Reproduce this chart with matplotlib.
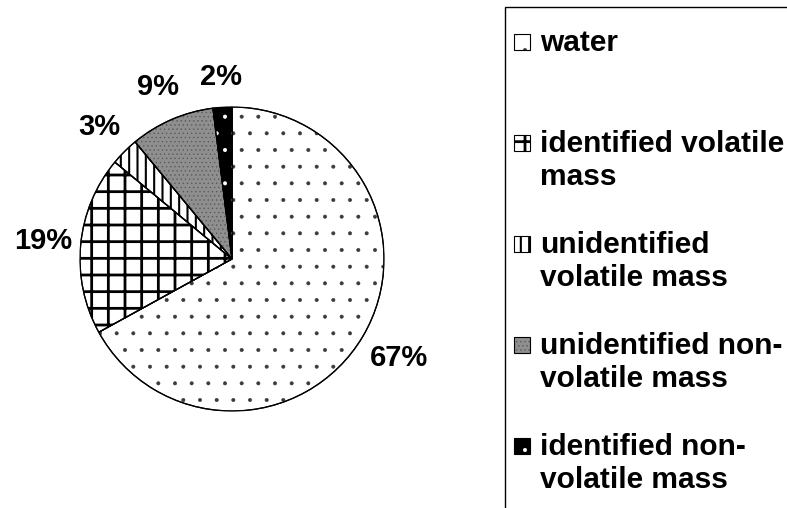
import numpy as np
import matplotlib
matplotlib.use("Agg")
import matplotlib.pyplot as plt
from matplotlib.patches import Rectangle, Wedge

plt.rcParams["font.family"] = ["Liberation Sans", "DejaVu Sans"]
plt.rcParams["font.weight"] = "bold"

# Data
categories = [
    "water",
    "identified volatile\nmass",
    "unidentified\nvolatile mass",
    "unidentified non-\nvolatile mass",
    "identified non-\nvolatile mass",
]
shares = [67, 19, 3, 9, 2]

# Styling for each slice: (facecolor, hatch, hatch colour, hatch line width)
STYLES = [
    ("white", ".", "#3a3a3a", 0.4),
    ("white", "+", "black", 2.0),
    ("white", "||", "black", 1.5),
    ("#8f8f8f", "....", "#5a5a5a", 0.5),
    ("black", ".", "white", 0.5),
]
LABEL_DIST = [1.28, 1.25, 1.23, 1.23, 1.2]

W, H = 787, 508
fig = plt.figure(figsize=(W / 100, H / 100), dpi=100)

# Pie axes placed in pixel units
cx, cy, R = 232, 259, 152
ax = fig.add_axes([(cx - R) / W, (H - cy - R) / H, 2 * R / W, 2 * R / H])

wedges, _, autotexts = ax.pie(
    shares,
    startangle=90,
    counterclock=False,
    autopct="%1.0f%%",
    wedgeprops=dict(edgecolor="black", linewidth=0.9),
    textprops=dict(fontsize=21, fontweight="bold"),
)


def set_hlw(patch, lw):
    if hasattr(patch, "set_hatch_linewidth"):
        patch.set_hatch_linewidth(lw)


for w, (fc, hatch, hc, hlw) in zip(wedges, STYLES):
    w.set_facecolor(fc)
    # hatch layer in its own colour, then outline on top
    hw = Wedge(w.center, w.r, w.theta1, w.theta2, facecolor="none",
               edgecolor=hc, linewidth=0, hatch=hatch)
    set_hlw(hw, hlw)
    ax.add_patch(hw)
    ax.add_patch(Wedge(w.center, w.r, w.theta1, w.theta2, facecolor="none",
                       edgecolor="black", linewidth=0.9))

for w, t, d in zip(wedges, autotexts, LABEL_DIST):
    mid = np.deg2rad((w.theta1 + w.theta2) / 2)
    t.set_position((d * np.cos(mid), d * np.sin(mid)))
    t.set_clip_on(False)

ax.set_xlim(-1, 1)
ax.set_ylim(-1, 1)
ax.set_aspect("equal")
ax.axis("off")

# Legend drawn in pixel coordinates
lax = fig.add_axes([0, 0, 1, 1], facecolor="none")
lax.set_xlim(0, W)
lax.set_ylim(H, 0)
lax.axis("off")

lax.add_patch(
    Rectangle((505, 7), 320, 520, facecolor="none", edgecolor="black",
              linewidth=1.0, clip_on=False)
)

ENTRY_Y0 = 43
ENTRY_STEP = 101
LINE_STEP = 33
for i, (label, (fc, hatch, hc, hlw)) in enumerate(zip(categories, STYLES)):
    y = ENTRY_Y0 + i * ENTRY_STEP
    lax.add_patch(Rectangle((514, y - 9), 16, 16, facecolor=fc,
                            edgecolor="none", linewidth=0))
    hp = Rectangle((514, y - 9), 16, 16, facecolor="none", edgecolor=hc,
                   linewidth=0, hatch=hatch)
    set_hlw(hp, hlw)
    lax.add_patch(hp)
    lax.add_patch(Rectangle((514, y - 9), 16, 16, facecolor="none",
                            edgecolor="black", linewidth=0.8))
    for k, line in enumerate(label.split("\n")):
        lax.text(540, y + k * LINE_STEP, line,
                 fontsize=21.5, fontweight="bold", va="center", ha="left")

fig.savefig("out.png", dpi=100)
